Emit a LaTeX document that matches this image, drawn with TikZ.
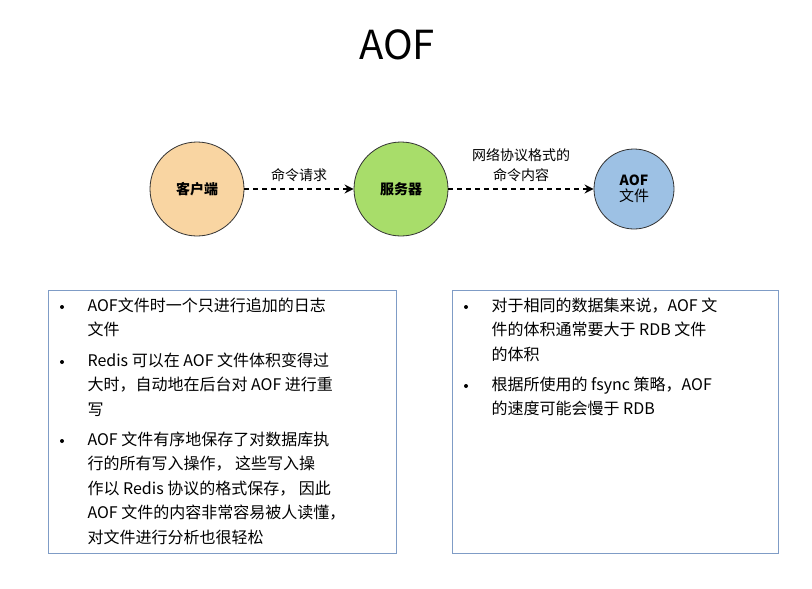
\documentclass[tikz,border=0pt]{standalone}
\usepackage{fontspec}
\setmainfont{Noto Sans CJK SC}
\usetikzlibrary{arrows.meta}
\definecolor{peach}{HTML}{F9D5A2}
\definecolor{lgreen}{HTML}{A8DD6A}
\definecolor{lblue}{HTML}{9DC1E4}
\definecolor{pborder}{HTML}{7F9CC6}
\begin{document}
\begin{tikzpicture}[x=1pt,y=-1pt,
  circ/.style={circle,draw=black!80,line width=0.8pt,minimum size=#1,font=\fontsize{14}{16}\selectfont\bfseries},
  conn/.style={line width=1.6pt,-{Stealth[length=9pt,width=9pt]},dash pattern=on 5pt off 4pt},
  lbl/.style={font=\fontsize{14}{20}\selectfont,align=center},
  panel/.style={draw=pborder,line width=0.8pt},
  txt/.style={anchor=north west,align=left,font=\fontsize{16}{24.5}\selectfont},
  bul/.style={circle,fill=black,inner sep=0pt,minimum size=4pt}]
\useasboundingbox (0,0) rectangle (812,589);
\node[font=\fontsize{40}{44}\selectfont] (title) at (397,45) {AOF};
\node[circ=94pt,fill=peach] (c) at (197,189) {客户端};
\node[circ=94pt,fill=lgreen] (s) at (401,189) {服务器};
\node[circ=80pt,fill=lblue] (f) at (634,189) {\shortstack{AOF\\[0pt]\fontsize{15}{17}\selectfont\mdseries 文件}};
\draw[conn] (c) -- (s) node[lbl,midway,above=3pt] {命令请求};
\draw[conn] (s) -- (f) node[lbl,midway,above=3pt] {网络协议格式的\\命令内容};
\draw[panel] (48,290) rectangle (396,553);
\draw[panel] (452,290) rectangle (778,553);
\node[bul] (b1) at (62,307) {};
\node[txt] (t1) at (84,294) {AOF文件时一个只进行追加的日志\\文件};
\node[bul] (b2) at (62,362) {};
\node[txt] (t2) at (84,349) {Redis 可以在 AOF 文件体积变得过\\大时，自动地在后台对 AOF 进行重\\写};
\node[bul] (b3) at (62,441) {};
\node[txt] (t3) at (84,428) {AOF 文件有序地保存了对数据库执\\行的所有写入操作， 这些写入操\\作以 Redis 协议的格式保存， 因此\\AOF 文件的内容非常容易被人读懂，\\对文件进行分析也很轻松};
\node[bul] (b4) at (466,307) {};
\node[txt] (t4) at (488,294) {对于相同的数据集来说，AOF 文\\件的体积通常要大于 RDB 文件\\的体积};
\node[bul] (b5) at (466,386) {};
\node[txt] (t5) at (488,373) {根据所使用的 fsync 策略，AOF\\的速度可能会慢于 RDB};
\end{tikzpicture}
\end{document}
